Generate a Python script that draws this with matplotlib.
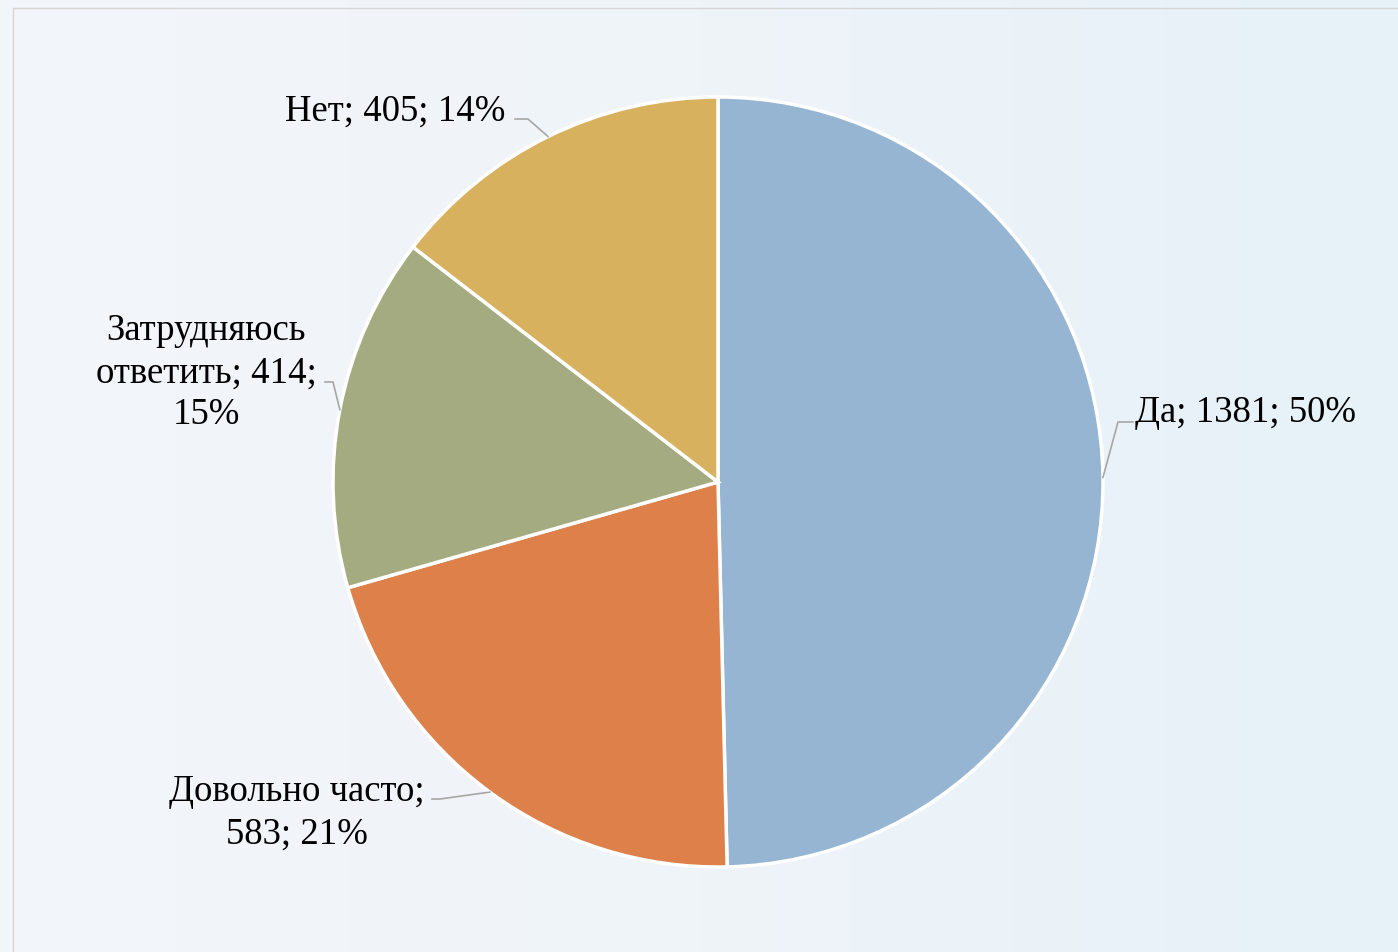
import numpy as np
import matplotlib.pyplot as plt
from matplotlib.colors import LinearSegmentedColormap

# data
labels = ["Да", "Довольно часто", "Затрудняюсь ответить", "Нет"]
values = [1381, 583, 414, 405]
pcts = [50, 21, 15, 14]   # as printed on the chart
colors = ["#95B5D3", "#DD8049", "#A5AB80", "#D8B15E"]

W, H = 1398, 953
cx, cy, r = 718, H - 483, 385

plt.rcParams['font.family'] = ['Liberation Serif', 'DejaVu Serif']

fig = plt.figure(figsize=(W / 100, H / 100), dpi=100)
ax = fig.add_axes([0, 0, 1, 1])

# soft bluish background
bg = LinearSegmentedColormap.from_list("bg", ["#F3F6F9", "#EFF4F9", "#E6F1F8"])
grad = np.tile(np.linspace(0, 1, 256), (32, 1))
ax.imshow(grad, cmap=bg, extent=[0, W, 0, H], aspect='auto', zorder=0)
ax.add_patch(plt.Rectangle((13, -5), W, H - 9 + 5, fill=False, ec="#D6D6D6", lw=1, zorder=1))

wedges, _ = ax.pie(values, colors=colors, startangle=90, counterclock=False,
                   center=(cx, cy), radius=r, frame=True,
                   wedgeprops=dict(edgecolor="white", linewidth=2.5))
ax.set_xlim(0, W)
ax.set_ylim(0, H)
ax.set_aspect('equal')
ax.axis('off')
for w in wedges:
    w.set_zorder(2)

texts = [
    f"{labels[0]}; {values[0]}; {pcts[0]}%",
    f"Довольно часто;\n{values[1]}; {pcts[1]}%",
    f"Затрудняюсь\nответить; {values[2]};\n{pcts[2]}%",
    f"{labels[3]}; {values[3]}; {pcts[3]}%",
]

# (text x, text y, ha, elbow x, elbow y, end x) in pixel coords
place = [
    (1135, 413, 'left', 1118, 423, 1133),
    (297, 813, 'center', 440, 800, 432),
    (206, 373, 'center', 333, 383, 325),
    (505, 111, 'right', 528, 120, 515),
]

fs = 26.5
for w, t, (tx, ty, ha, ex, ey, lx) in zip(wedges, texts, place):
    mid = np.deg2rad((w.theta1 + w.theta2) / 2)
    px, py = cx + r * np.cos(mid), cy + r * np.sin(mid)
    ax.plot([px, ex, lx], [py, H - ey, H - ey], color="#A6A6A6", lw=1.2, zorder=3)
    ax.text(tx, H - ty, t, ha=ha, va='center', fontsize=fs, color="black",
            linespacing=1.28, zorder=4)

fig.savefig("out.png", dpi=100)
